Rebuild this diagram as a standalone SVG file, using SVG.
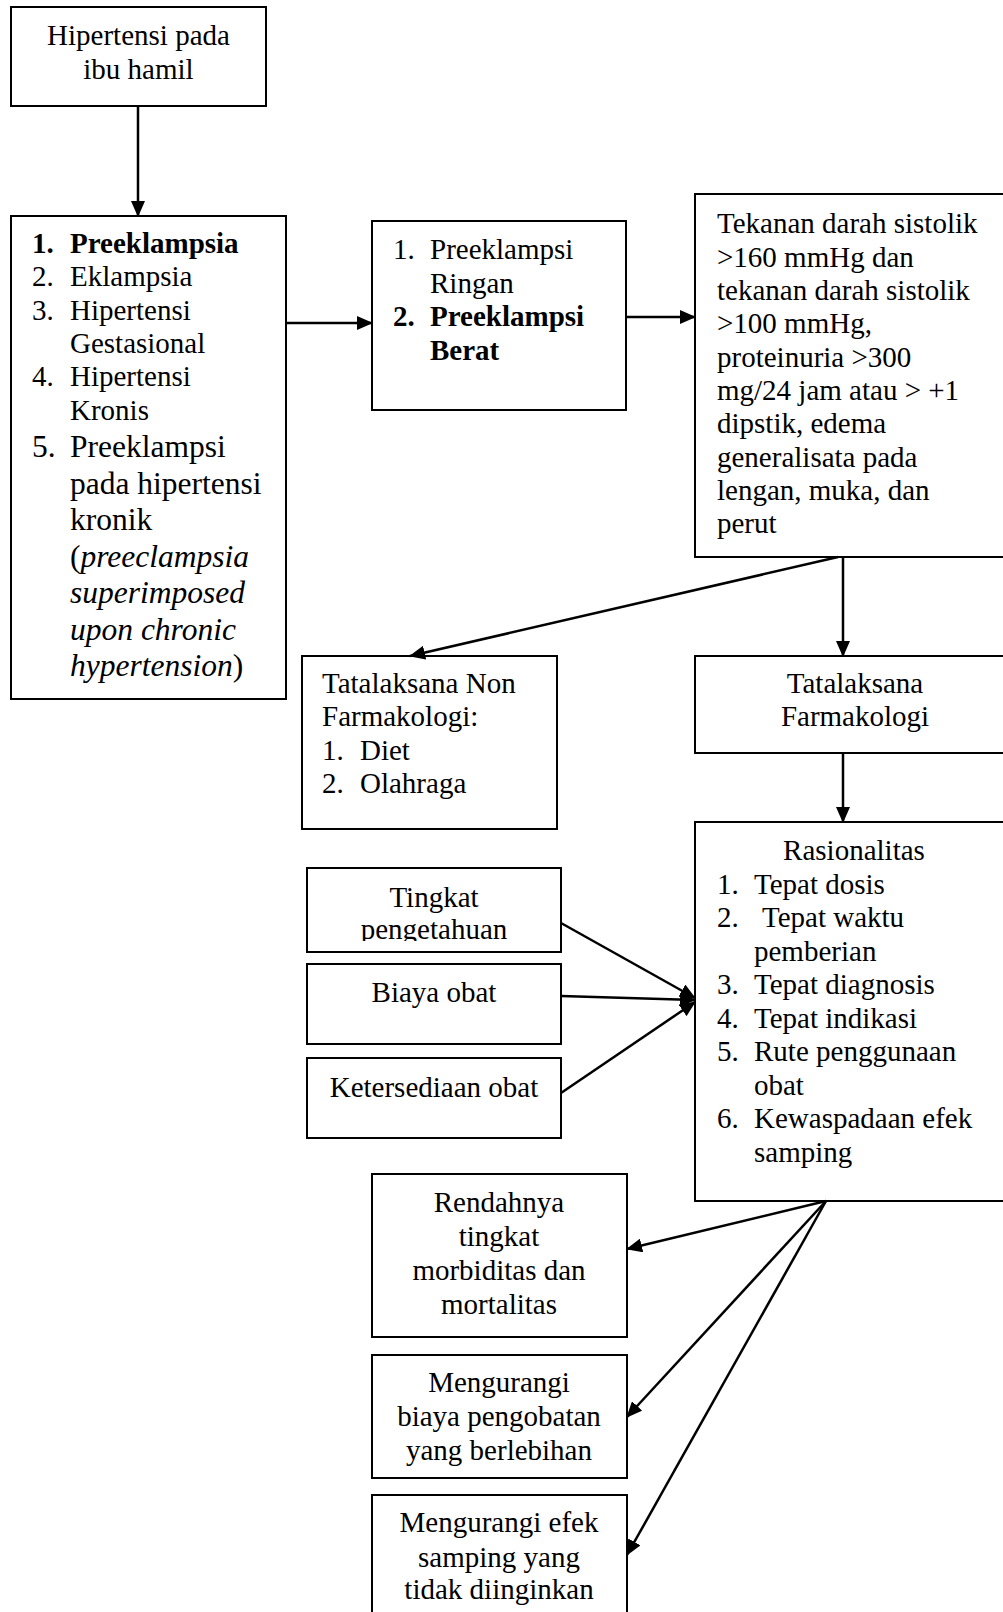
<svg xmlns="http://www.w3.org/2000/svg" width="1003" height="1612" viewBox="0 0 1003 1612">
<style>
.box{fill:#fff;stroke:#000;stroke-width:2}
text{font-family:"Liberation Serif","Times New Roman",serif;font-size:29px;fill:#000}
.c{text-anchor:middle}
.b{font-weight:bold}
.big{font-size:31.5px}
.conn line{stroke:#000;stroke-width:2.5;fill:none}
</style>
<defs>
<marker id="ah" viewBox="0 0 16 14" refX="15" refY="7" markerWidth="16" markerHeight="14" markerUnits="userSpaceOnUse" orient="auto">
<path d="M0,0 L16,7 L0,14 z" fill="#000"/>
</marker>
<clipPath id="clipTingkat"><rect x="300" y="860" width="270" height="81"/></clipPath>
</defs>

<g id="n-hipertensi">
<rect class="box" x="11" y="7" width="255" height="99"/>
<text class="c" x="138.5" y="45">Hipertensi pada</text>
<text class="c" x="138.5" y="79">ibu hamil</text>
</g>

<g id="n-jenis">
<rect class="box" x="11" y="216" width="275" height="483"/>
<text class="b" x="32" y="253">1.</text><text class="b" x="70" y="253">Preeklampsia</text>
<text x="32" y="286.3">2.</text><text x="70" y="286.3">Eklampsia</text>
<text x="32" y="319.6">3.</text><text x="70" y="319.6">Hipertensi</text>
<text x="70" y="353">Gestasional</text>
<text x="32" y="386.3">4.</text><text x="70" y="386.3">Hipertensi</text>
<text x="70" y="419.6">Kronis</text>
<text class="big" x="32" y="457">5.</text><text class="big" x="70" y="457">Preeklampsi</text>
<text class="big" x="70" y="493.5">pada hipertensi</text>
<text class="big" x="70" y="530">kronik</text>
<text class="big" x="70" y="566.5">(<tspan font-style="italic">preeclampsia</tspan></text>
<text class="big" x="70" y="603" font-style="italic">superimposed</text>
<text class="big" x="70" y="639.5" font-style="italic">upon chronic</text>
<text class="big" x="70" y="676"><tspan font-style="italic">hypertension</tspan>)</text>
</g>

<g id="n-preeklampsi">
<rect class="box" x="372" y="221" width="254" height="189"/>
<text x="393" y="259">1.</text><text x="430" y="259">Preeklampsi</text>
<text x="430" y="292.5">Ringan</text>
<text class="b" x="393" y="326">2.</text><text class="b" x="430" y="326">Preeklampsi</text>
<text class="b" x="430" y="359.5">Berat</text>
</g>

<g id="n-gejala">
<rect class="box" x="695" y="194" width="330" height="363"/>
<text x="717" y="233.3">Tekanan darah sistolik</text>
<text x="717" y="266.6">&gt;160 mmHg dan</text>
<text x="717" y="300">tekanan darah sistolik</text>
<text x="717" y="333.3">&gt;100 mmHg,</text>
<text x="717" y="366.6">proteinuria &gt;300</text>
<text x="717" y="400">mg/24 jam atau &gt; +1</text>
<text x="717" y="433.3">dipstik, edema</text>
<text x="717" y="466.6">generalisata pada</text>
<text x="717" y="500">lengan, muka, dan</text>
<text x="717" y="533.3">perut</text>
</g>

<g id="n-nonfarmakologi">
<rect class="box" x="302" y="656" width="255" height="173"/>
<text x="322" y="693">Tatalaksana Non</text>
<text x="322" y="726.3">Farmakologi:</text>
<text x="322" y="759.6">1.</text><text x="360" y="759.6">Diet</text>
<text x="322" y="793">2.</text><text x="360" y="793">Olahraga</text>
</g>

<g id="n-farmakologi">
<rect class="box" x="695" y="656" width="330" height="97"/>
<text class="c" x="855" y="693">Tatalaksana</text>
<text class="c" x="855" y="726.3">Farmakologi</text>
</g>

<g id="n-rasionalitas">
<rect class="box" x="695" y="822" width="330" height="379"/>
<text class="c" x="854" y="860">Rasionalitas</text>
<text x="717" y="893.5">1.</text><text x="754" y="893.5">Tepat dosis</text>
<text x="717" y="927">2.</text><text x="762" y="927">Tepat waktu</text>
<text x="754" y="960.5">pemberian</text>
<text x="717" y="994">3.</text><text x="754" y="994">Tepat diagnosis</text>
<text x="717" y="1027.5">4.</text><text x="754" y="1027.5">Tepat indikasi</text>
<text x="717" y="1061">5.</text><text x="754" y="1061">Rute penggunaan</text>
<text x="754" y="1094.5">obat</text>
<text x="717" y="1128">6.</text><text x="754" y="1128">Kewaspadaan efek</text>
<text x="754" y="1161.5">samping</text>
</g>

<g id="n-tingkat">
<rect class="box" x="307" y="868" width="254" height="84"/>
<g clip-path="url(#clipTingkat)">
<text class="c" x="434" y="906.7">Tingkat</text>
<text class="c" x="434" y="938.5">pengetahuan</text>
</g>
</g>

<g id="n-biaya">
<rect class="box" x="307" y="964" width="254" height="80"/>
<text class="c" x="434" y="1001.7">Biaya obat</text>
</g>

<g id="n-ketersediaan">
<rect class="box" x="307" y="1058" width="254" height="80"/>
<text class="c" x="434" y="1096.7">Ketersediaan obat</text>
</g>

<g id="n-rendahnya">
<rect class="box" x="372" y="1174" width="255" height="163"/>
<text class="c" x="499" y="1211.7">Rendahnya</text>
<text class="c" x="499" y="1245.7">tingkat</text>
<text class="c" x="499" y="1280">morbiditas dan</text>
<text class="c" x="499" y="1314">mortalitas</text>
</g>

<g id="n-biayapengobatan">
<rect class="box" x="372" y="1355" width="255" height="123"/>
<text class="c" x="499" y="1391.7">Mengurangi</text>
<text class="c" x="499" y="1426">biaya pengobatan</text>
<text class="c" x="499" y="1460">yang berlebihan</text>
</g>

<g id="n-efeksamping">
<rect class="box" x="372" y="1495" width="255" height="130"/>
<text class="c" x="499" y="1531.7">Mengurangi efek</text>
<text class="c" x="499" y="1566.7">samping yang</text>
<text class="c" x="499" y="1599.3">tidak diinginkan</text>
</g>

<g id="connectors" class="conn">
<line x1="138" y1="106" x2="138" y2="216" marker-end="url(#ah)"/>
<line x1="286" y1="323" x2="372" y2="323" marker-end="url(#ah)"/>
<line x1="626" y1="317" x2="695" y2="317" marker-end="url(#ah)"/>
<line x1="838" y1="557" x2="410" y2="656" marker-end="url(#ah)"/>
<line x1="843" y1="557" x2="843" y2="656" marker-end="url(#ah)"/>
<line x1="843" y1="753" x2="843" y2="822" marker-end="url(#ah)"/>
<line x1="561" y1="923" x2="695" y2="998" marker-end="url(#ah)"/>
<line x1="561" y1="996" x2="695" y2="1000" marker-end="url(#ah)"/>
<line x1="561" y1="1093" x2="695" y2="1002" marker-end="url(#ah)"/>
<line x1="826" y1="1201" x2="627" y2="1249" marker-end="url(#ah)"/>
<line x1="826" y1="1201" x2="627" y2="1417" marker-end="url(#ah)"/>
<line x1="826" y1="1201" x2="627" y2="1555" marker-end="url(#ah)"/>
</g>
</svg>
